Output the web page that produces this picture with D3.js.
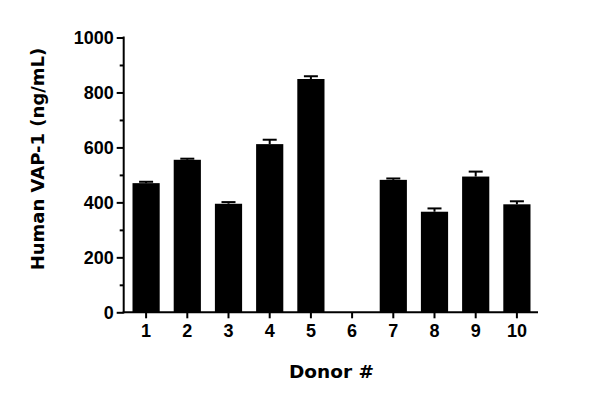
<!DOCTYPE html>
<html>
<head>
<meta charset="utf-8">
<script src="https://cdn.jsdelivr.net/npm/d3@7"></script>
<style>
  html, body { margin: 0; padding: 0; background: #fff; }
  svg { display: block; }
</style>
</head>
<body>
<svg id="chart" width="600" height="404"></svg>
<script>
const donors = ["1", "2", "3", "4", "5", "6", "7", "8", "9", "10"];
const means  = [470, 555, 395, 612, 849, 0, 482, 366, 494, 393];
const errors = [5, 4, 6, 16, 10, 0, 5, 12, 18, 11];
const yTicks = [0, 200, 400, 600, 800, 1000];
const yMinorTicks = [100, 300, 500, 700, 900];
const xTitle = "Donor #";
const yTitle = "Human VAP-1 (ng/mL)";

const svg = d3.select("#chart");
const axisX0 = 123.7;
const y = d3.scaleLinear().domain([0, 1000]).range([312.3, 37.5]);
const x = d3.scaleBand().domain(donors).range([125.5, 537.5])
  .paddingInner(0.34).paddingOuter(0.17);

const tickFont = "'Liberation Sans', Arial, sans-serif";
const titleFont = "'DejaVu Sans', sans-serif";

// bars
svg.append("g").selectAll("rect")
  .data(donors)
  .join("rect")
  .attr("x", d => x(d))
  .attr("width", x.bandwidth())
  .attr("y", (d, i) => y(means[i]))
  .attr("height", (d, i) => y(0) - y(means[i]))
  .attr("fill", "#000");

// error bars (upper only)
const eb = svg.append("g").attr("stroke", "#000").attr("stroke-width", 2);
donors.forEach((d, i) => {
  if (means[i] <= 0) return;
  const cx = x(d) + x.bandwidth() / 2;
  const top = y(means[i] + errors[i]);
  eb.append("line").attr("x1", cx).attr("x2", cx)
    .attr("y1", y(means[i])).attr("y2", top);
  eb.append("line").attr("x1", cx - 7).attr("x2", cx + 7)
    .attr("y1", top).attr("y2", top);
});

// y axis
const yAxis = d3.axisLeft(y).tickValues(yTicks).tickSize(7).tickPadding(3)
  .tickFormat(d3.format("d"));
const gy = svg.append("g").attr("transform", `translate(${axisX0},0)`).call(yAxis);
gy.select(".domain").remove();
gy.selectAll(".tick line").attr("stroke", "#000").attr("stroke-width", 2);
gy.selectAll(".tick text")
  .attr("font-family", tickFont).attr("font-weight", "bold")
  .attr("font-size", 18).attr("fill", "#000");
const yMinor = d3.axisLeft(y).tickValues(yMinorTicks).tickSize(4).tickFormat("");
const gym = svg.append("g").attr("transform", `translate(${axisX0},0)`).call(yMinor);
gym.select(".domain").remove();
gym.selectAll(".tick line").attr("stroke", "#000").attr("stroke-width", 2);
svg.append("line")
  .attr("x1", axisX0).attr("x2", axisX0)
  .attr("y1", y(1000) - 1).attr("y2", y(0) + 1)
  .attr("stroke", "#000").attr("stroke-width", 2);

// x axis
const xAxis = d3.axisBottom(x).tickSize(6).tickPadding(6);
const gx = svg.append("g").attr("transform", `translate(0,${y(0)})`).call(xAxis);
gx.select(".domain").remove();
gx.selectAll(".tick line").attr("stroke", "#000").attr("stroke-width", 2);
gx.selectAll(".tick text")
  .attr("font-family", tickFont).attr("font-weight", "bold")
  .attr("font-size", 18).attr("fill", "#000");
svg.append("line")
  .attr("x1", axisX0 - 1).attr("x2", x.range()[1] + 0.5)
  .attr("y1", y(0)).attr("y2", y(0))
  .attr("stroke", "#000").attr("stroke-width", 2);

// titles
svg.append("text")
  .attr("x", 331.5).attr("y", 378)
  .attr("text-anchor", "middle")
  .attr("font-family", titleFont).attr("font-weight", "bold")
  .attr("font-size", 18.5).attr("fill", "#000")
  .text(xTitle);
svg.append("text")
  .attr("transform", "translate(44,159) rotate(-90)")
  .attr("text-anchor", "middle")
  .attr("font-family", titleFont).attr("font-weight", "bold")
  .attr("font-size", 18).attr("fill", "#000")
  .text(yTitle);
</script>
</body>
</html>
